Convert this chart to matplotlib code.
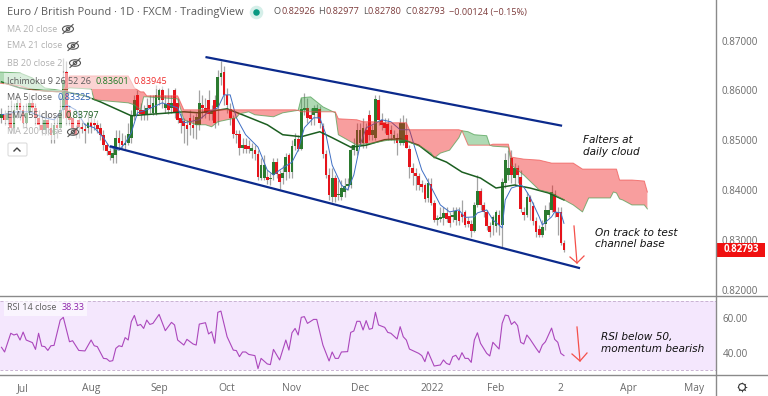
import matplotlib
matplotlib.use("Agg")
import matplotlib.pyplot as plt
from matplotlib.patches import Circle, Ellipse, FancyBboxPatch, Rectangle

plt.rcParams["font.family"] = ["Open Sans", "DejaVu Sans"]

# daily candles
opens = [.8545,.8552,.8540,.8555,.8525,.8560,.8575,.8560,.8535,.8555,.8575,.8565,.8545,.8530,.8520,.8540,.8525,.8510,.8530,.8525,
         .8560,.8636,.8561,.8545,.8525,.8541,.8526,.8522,.8525,.8537,.8535,.8530,.8525,.8510,.8490,.8478,.8465,.8470,.8505,.8498,
         .8490,.8495,.8505,.8550,.8590,.8560,.8560,.8550,.8570,.8555,.8555,.8580,.8600,.8565,.8575,.8565,.8600,.8575,.8545,.8538,
         .8530,.8545,.8530,.8530,.8530,.8570,.8565,.8580,.8553,.8580,.8567,.8627,.8636,.8590,.8562,.8545,.8513,.8512,.8485,.8490,
         .8488,.8478,.8480,.8473,.8425,.8425,.8427,.8422,.8430,.8457,.8432,.8425,.8437,.8470,.8437,.8488,.8503,.8483,.8560,.8565,
         .8550,.8550,.8555,.8563,.8528,.8473,.8430,.8386,.8425,.8390,.8385,.8395,.8408,.8410,.8480,.8478,.8495,.8495,.8520,.8550,
         .8510,.8505,.8580,.8540,.8535,.8533,.8520,.8505,.8505,.8495,.8495,.8510,.8482,.8445,.8435,.8428,.8412,.8410,.8384,.8412,
         .8374,.8340,.8342,.8344,.8354,.8348,.8345,.8340,.8358,.8352,.8355,.8338,.8332,.8318,.8370,.8397,.8370,.8355,.8327,.8330,
         .8328,.8350,.8330,.8415,.8430,.8465,.8425,.8445,.8426,.8356,.8350,.8385,.8368,.8338,.8322,.8310,.8332,.8350,.8360,.8392,
         .8355,.8356,.8294]
closes = [.8552,.8540,.8555,.8525,.8560,.8575,.8560,.8535,.8555,.8575,.8565,.8545,.8530,.8520,.8540,.8525,.8510,.8530,.8525,.8560,
          .8620,.8545,.8541,.8525,.8510,.8526,.8522,.8518,.8537,.8527,.8530,.8522,.8510,.8490,.8478,.8470,.8475,.8505,.8495,.8490,
          .8495,.8512,.8550,.8580,.8560,.8553,.8550,.8565,.8565,.8575,.8590,.8600,.8580,.8572,.8560,.8575,.8555,.8541,.8535,.8528,
          .8522,.8530,.8525,.8547,.8575,.8565,.8555,.8553,.8558,.8535,.8627,.8635,.8591,.8570,.8545,.8513,.8510,.8485,.8490,.8483,
          .8482,.8485,.8473,.8426,.8450,.8450,.8420,.8425,.8457,.8432,.8417,.8435,.8467,.8437,.8488,.8503,.8483,.8563,.8565,.8545,
          .8543,.8565,.8565,.8535,.8473,.8430,.8390,.8424,.8385,.8392,.8405,.8408,.8412,.8480,.8490,.8521,.8520,.8525,.8495,.8510,
          .8520,.8583,.8540,.8530,.8525,.8510,.8512,.8510,.8495,.8535,.8535,.8485,.8447,.8435,.8428,.8410,.8407,.8382,.8415,.8374,
          .8340,.8343,.8345,.8354,.8342,.8333,.8350,.8358,.8338,.8345,.8330,.8331,.8318,.8370,.8397,.8370,.8355,.8327,.8315,.8345,
          .8355,.8330,.8417,.8460,.8445,.8430,.8445,.8430,.8362,.8350,.8386,.8375,.8338,.8316,.8310,.8325,.8360,.8360,.8396,.8355,
          .8345,.8294,.8279]
highs = [.8565,.8560,.8570,.8580,.8575,.8590,.8585,.8570,.8575,.8595,.8590,.8575,.8560,.8550,.8560,.8550,.8535,.8550,.8550,.8590,
         .8665,.8660,.8570,.8555,.8530,.8560,.8540,.8535,.8555,.8550,.8545,.8540,.8535,.8520,.8495,.8485,.8485,.8520,.8520,.8515,
         .8510,.8535,.8560,.8590,.8600,.8575,.8570,.8585,.8590,.8590,.8610,.8605,.8608,.8590,.8605,.8590,.8605,.8585,.8555,.8545,
         .8540,.8560,.8550,.8555,.8600,.8590,.8585,.8600,.8570,.8590,.8640,.8660,.8650,.8605,.8575,.8550,.8520,.8520,.8505,.8505,
         .8500,.8495,.8490,.8480,.8465,.8470,.8440,.8435,.8465,.8465,.8440,.8450,.8475,.8475,.8500,.8515,.8510,.8585,.8595,.8585,
         .8565,.8570,.8572,.8568,.8535,.8480,.8445,.8445,.8430,.8420,.8420,.8425,.8425,.8490,.8505,.8535,.8535,.8545,.8535,.8560,
         .8530,.8590,.8590,.8555,.8545,.8545,.8530,.8520,.8515,.8545,.8550,.8545,.8490,.8455,.8445,.8435,.8420,.8415,.8425,.8425,
         .8380,.8350,.8365,.8365,.8365,.8355,.8365,.8365,.8365,.8380,.8360,.8345,.8340,.8375,.8430,.8405,.8375,.8360,.8335,.8350,
         .8360,.8360,.8425,.8475,.8480,.8480,.8455,.8450,.8440,.8365,.8395,.8390,.8375,.8345,.8330,.8340,.8370,.8375,.8410,.8400,
         .8365,.8365,.8300]
lows = [.8535,.8530,.8530,.8515,.8515,.8545,.8540,.8525,.8525,.8550,.8550,.8530,.8520,.8510,.8510,.8510,.8495,.8495,.8505,.8520,
        .8545,.8530,.8530,.8510,.8505,.8505,.8515,.8495,.8515,.8515,.8520,.8515,.8500,.8480,.8470,.8460,.8455,.8455,.8480,.8482,
        .8480,.8490,.8495,.8540,.8550,.8540,.8540,.8540,.8555,.8550,.8550,.8570,.8565,.8555,.8552,.8555,.8545,.8535,.8515,.8495,
        .8490,.8510,.8505,.8503,.8520,.8545,.8545,.8540,.8540,.8525,.8530,.8610,.8570,.8555,.8530,.8505,.8495,.8470,.8475,.8475,
        .8475,.8465,.8460,.8420,.8420,.8420,.8412,.8410,.8420,.8425,.8403,.8412,.8420,.8425,.8425,.8480,.8478,.8480,.8550,.8535,
        .8530,.8530,.8545,.8525,.8465,.8425,.8380,.8375,.8375,.8380,.8380,.8385,.8400,.8405,.8470,.8470,.8490,.8485,.8485,.8500,
        .8500,.8500,.8530,.8520,.8515,.8500,.8500,.8495,.8470,.8490,.8490,.8485,.8425,.8410,.8400,.8400,.8395,.8375,.8375,.8370,
        .8335,.8330,.8335,.8330,.8335,.8325,.8335,.8330,.8330,.8335,.8325,.8325,.8305,.8315,.8365,.8360,.8345,.8320,.8305,.8310,
        .8315,.8310,.8286,.8405,.8420,.8415,.8410,.8415,.8355,.8340,.8345,.8340,.8330,.8305,.8305,.8305,.8320,.8345,.8355,.8345,
        .8310,.8290,.8275]

# moving averages, read at the turning points
ma5_x = [0,5,9,14,17,21,24,27,30,33,35,38,40,42,44,47,52,57,59,64,67,70,72,74,76,79,83,86,88,90,94,96,98,101,103,105,107,110,112,114,116,118,120,123,126,129,132,134,136,139,142,145,148,150,153,154,157,159,162,163,165,168,169,171,174,175,178,179,181,182]
ma5_y = [.8551,.8557,.8557,.8545,.8541,.8571,.8561,.8531,.8525,.8505,.8486,.8480,.8494,.8515,.8555,.8561,.8575,.8565,.8535,.8541,.8557,.8565,.8591,.8591,.8545,.8511,.8486,.8440,.8430,.8440,.8456,.8480,.8525,.8545,.8545,.8511,.8450,.8410,.8400,.8430,.8490,.8525,.8531,.8541,.8537,.8521,.8521,.8480,.8440,.8406,.8370,.8356,.8360,.8345,.8346,.8354,.8360,.8340,.8324,.8380,.8404,.8410,.8406,.8386,.8346,.8330,.8346,.8356,.8354,.8333]
ema55_x = [0,6,14,21,27,32,42,46,59,64,73,78,86,91,97,103,107,113,118,124,129,135,140,144,149,155,160,166,171,177,182]
ema55_y = [.8617,.8605,.8599,.8597,.8589,.8577,.8549,.8551,.8557,.8555,.8563,.8551,.8531,.8511,.8507,.8517,.8505,.8486,.8490,.8501,.8503,.8490,.8466,.8456,.8436,.8424,.8404,.8410,.8404,.8394,.8380]

# ichimoku cloud
cloud_x = [-1,6,10,14,18,20,22,29,30,41,43,45,46,47,57,59,63,66,68,70,73,76,77,80,82,88,91,95,96,97,100,102,104,108,109,115,117,120,125,131,132,136,139,140,142,145,148,149,151,153,157,158,159,164,165,169,174,178,185,188,190,197,198,199,200,201,204,208,209]
span_a = [.8637,.8635,.8625,.8605,.8601,.8599,.8605,.8603,.8581,.8575,.8571,.8561,.8587,.8587,.8583,.8541,.8531,.8531,.8527,.8537,.8541,.8545,.8553,.8557,.8551,.8547,.8555,.8559,.8560,.8585,.8587,.8577,.8567,.8555,.8511,.8490,.8492,.8494,.8500,.8500,.8496,.8486,.8474,.8464,.8474,.8480,.8505,.8519,.8517,.8511,.8509,.8490,.8488,.8486,.8450,.8430,.8400,.8394,.8370,.8356,.8384,.8384,.8396,.8394,.8382,.8380,.8370,.8370,.8362]
span_b = [.8615,.8609,.8601,.8599,.8597,.8599,.8629,.8629,.8629,.8629,.8605,.8597,.8597,.8589,.8589,.8561,.8561,.8561,.8561,.8561,.8561,.8561,.8561,.8561,.8561,.8561,.8561,.8561,.8560,.8557,.8557,.8557,.8557,.8557,.8543,.8541,.8537,.8537,.8535,.8535,.8521,.8521,.8521,.8521,.8521,.8521,.8521,.8519,.8490,.8490,.8490,.8490,.8492,.8492,.8466,.8462,.8460,.8454,.8454,.8442,.8442,.8442,.8442,.8442,.8420,.8420,.8420,.8418,.8396]

# channel lines
upper_x = [66, 181.4]
upper_y = [.8667, .8529]
lower_x = [35.1, 187.2]
lower_y = [.8488, .8243]

rsi_x = [0,1,3,4,5,6,7,8,10,11,12,13,14,15,16,17,19,20,22,23,25,27,29,30,31,33,34,35,36,37,38,39,40,41,42,43,44,45,46,47,48,49,51,53,55,56,57,59,60,62,63,64,66,67,68,69,70,71,73,75,76,77,78,79,80,82,83,84,86,87,88,90,92,93,94,95,96,97,98,99,101,102,104,106,107,108,109,110,112,113,114,115,116,117,118,119,120,121,122,124,125,126,128,129,130,131,132,135,136,137,138,140,142,143,144,145,146,147,148,149,150,151,152,153,154,155,157,158,159,161,162,163,164,165,166,167,168,169,170,171,173,174,175,176,178,179,180,181,182]
rsi_y = [43.1,40.4,51.2,50.2,50.8,47.3,51.9,47.3,45.8,41.9,51.2,43.8,43.5,41.3,44.0,44.2,58.8,60.4,46.3,46.9,41.3,41.0,47.3,44.0,43.5,36.7,36.5,35.0,35.4,42.5,44.0,43.5,48.7,47.3,57.9,61.5,55.6,56.3,54.0,58.8,56.3,56.9,62.1,52.7,57.5,56.0,47.3,44.4,47.7,45.0,44.4,56.5,57.3,50.8,52.1,45.4,63.3,64.0,49.2,41.5,41.2,37.7,40.4,40.4,39.0,38.3,30.8,36.7,33.5,33.1,41.9,35.8,47.3,41.5,51.5,54.0,50.2,60.4,60.8,56.9,59.2,59.2,44.4,35.2,40.4,36.7,36.7,40.4,40.6,51.7,52.5,58.1,58.1,53.1,58.5,53.5,54.0,63.3,56.0,54.6,51.7,51.2,47.9,55.0,49.2,47.3,42.1,39.6,38.3,34.8,40.6,32.3,32.9,35.8,33.8,33.1,37.7,38.5,35.8,40.0,36.7,36.7,34.4,47.3,51.5,45.4,39.6,38.1,46.0,42.1,56.9,61.7,61.3,56.3,57.9,55.6,46.0,45.0,50.2,47.9,42.5,40.0,44.4,46.3,54.2,47.7,46.0,39.6,38.3]

month_pos = [7, 29, 51, 73, 94, 116, 139.5, 160, 181, 203, 224]
month_labels = ["Jul", "Aug", "Sep", "Oct", "Nov", "Dec", "2022", "Feb", "2", "Apr", "May"]
price_ticks = [.82, .83, .84, .85, .86, .87]
rsi_ticks = [40, 60]

W, H = 768, 396
fig = plt.figure(figsize=(7.68, 3.96), dpi=100, facecolor="white")
ax = fig.add_axes([0, (H - 296) / H, 716 / W, 296 / H])
ax2 = fig.add_axes([0, (H - 375) / H, 716 / W, 79 / H])

UP = "#2b7a2f"
DOWN = "#e5131b"
TXT = "#6a6a6a"

# candles
bars = list(range(len(closes)))
cols = [UP if c >= o else DOWN for o, c in zip(opens, closes)]
ax.vlines(bars, lows, highs, color="#a3a3a3", lw=0.9, zorder=2)
ax.bar(bars, [abs(c - o) for o, c in zip(opens, closes)], bottom=[min(o, c) for o, c in zip(opens, closes)],
       width=0.88, color=cols, zorder=3)

ax.plot(ema55_x, ema55_y, color="#1b5e20", lw=1.1, zorder=4)
ax.plot(ma5_x, ma5_y, color="#3f6fc4", lw=0.7, zorder=4)

# cloud sits on top of the candles, see-through
a_up = [a >= b for a, b in zip(span_a, span_b)]
b_up = [a <= b for a, b in zip(span_a, span_b)]
ax.fill_between(cloud_x, span_a, span_b, where=a_up, color="#2e9e3a", alpha=0.38, lw=0, interpolate=True, zorder=5)
ax.fill_between(cloud_x, span_a, span_b, where=b_up, color="#f01818", alpha=0.42, lw=0, interpolate=True, zorder=5)
ax.plot(cloud_x, span_a, color="#4b9e50", lw=0.7, alpha=0.7, zorder=5)
ax.plot(cloud_x, span_b, color="#ef5350", lw=0.7, alpha=0.7, zorder=5)

ax.plot(upper_x, upper_y, color="#0b2a8c", lw=1.6, zorder=6, solid_capstyle="butt")
ax.plot(lower_x, lower_y, color="#0b2a8c", lw=1.6, zorder=6, solid_capstyle="butt")

ax.set_xlim(-0.485, 231.2)
ax.set_ylim(.84 - 106 / 4980, .84 + 190 / 4980)
ax.yaxis.tick_right()
ax.set_yticks(price_ticks)
ax.set_yticklabels(["%.5f" % p for p in price_ticks])
ax.set_xticks([])
ax.tick_params(axis="y", length=0, pad=4, labelsize=7.1, labelcolor=TXT)
for s in ax.spines.values():
    s.set_visible(False)

# RSI pane
ax2.axhspan(30, 70, color="#f4e7fd", lw=0, zorder=1)
ax2.axhline(70, color="#c9b3d2", lw=0.7, ls=(0, (3, 2)), zorder=2)
ax2.axhline(30, color="#c9b3d2", lw=0.7, ls=(0, (3, 2)), zorder=2)
ax2.plot(rsi_x, rsi_y, color="#ab47bc", lw=0.8, zorder=3)
ax2.set_xlim(-0.485, 231.2)
ax2.set_ylim(30 - 5 / 1.7325, 70 + 4.7 / 1.7325)
ax2.yaxis.tick_right()
ax2.set_yticks(rsi_ticks)
ax2.set_yticklabels(["%.2f" % r for r in rsi_ticks])
ax2.set_xticks(month_pos)
ax2.set_xticklabels(month_labels)
ax2.tick_params(axis="y", length=0, pad=5, labelsize=7.1, labelcolor=TXT)
ax2.tick_params(axis="x", length=0, pad=6, labelsize=7.4, labelcolor=TXT)
for s in ax2.spines.values():
    s.set_visible(False)

# overlay in pixel coordinates for the TradingView furniture
ov = fig.add_axes([0, 0, 1, 1], facecolor="none", zorder=10)
ov.set_xlim(0, W)
ov.set_ylim(H, 0)
ov.axis("off")

ov.plot([716, 716], [0, H], color="#8a8a8a", lw=1)
ov.plot([0, W], [296, 296], color="#8a8a8a", lw=1)
ov.plot([0, W], [375, 375], color="#8a8a8a", lw=1)

ov.text(7, 12, "Euro / British Pound · 1D · FXCM · TradingView", fontsize=7.9, color="#5a5a5a", va="center")
ov.scatter([256], [12], s=95, color="#d5efe9", lw=0)
ov.scatter([256], [12], s=22, color="#089981", lw=0)
ohlc = [(274, "O", "#555555"), (281, "0.82926", "#7d3c3c"), (318, "H", "#555555"), (325, "0.82977", "#7d3c3c"),
        (363, "L", "#555555"), (368, "0.82780", "#7d3c3c"), (405, "C", "#555555"), (411, "0.82793", "#7d3c3c"),
        (449, "−0.00124 (−0.15%)", "#7d3c3c")]
for x, s, c in ohlc:
    ov.text(x, 12, s, fontsize=6.6, color=c, va="center")

HID = "#b0b0b0"
VIS = "#5c5c5c"

# legend rows: pale strip first, then the text and icons on top
def row(y, x1, parts):
    ov.add_patch(Rectangle((4, y - 8), x1 - 4, 16, fc="white", alpha=0.55, lw=0))
    for px, s, c in parts:
        ov.text(px, y, s, fontsize=6.5, color=c, va="center")

def eye(x, y):
    ov.add_patch(Ellipse((x, y), 11, 6.5, fill=False, ec="#555555", lw=0.8))
    ov.add_patch(Ellipse((x, y), 3.4, 3.4, fill=False, ec="#555555", lw=0.8))
    ov.plot([x - 5, x + 5], [y + 4.5, y - 4.5], color="#555555", lw=0.8)

row(29, 76, [(7, "MA 20 close", HID)])
eye(68, 29)
row(46, 81, [(7, "EMA 21 close", HID)])
eye(73, 46)
row(63, 83, [(7, "BB 20 close 2", HID)])
eye(75, 63)
row(81, 167, [(7, "Ichimoku 9 26 52 26", VIS), (96, "0.83601", "#1b7a22"), (133, "0.83945", "#ef2b2b")])
row(98, 92, [(7, "MA 5 close", VIS), (57, "0.83325", "#2a5db0")])
row(115, 101, [(7, "EMA 55 close", VIS), (66, "0.83797", "#1b5e20")])
row(132, 81, [(7, "MA 200 close", HID)])
eye(73, 132)
ov.add_patch(FancyBboxPatch((8, 143), 19, 13, boxstyle="round,pad=0,rounding_size=1.5", fc="white", ec="#dcdcdc", lw=0.8))
ov.plot([14, 17, 20], [151, 148, 151], color="#444444", lw=1)

ov.add_patch(Rectangle((4, 300), 83, 16, fc="white", alpha=0.6, lw=0))
ov.text(7, 308, "RSI 14 close", fontsize=6.5, color=VIS, va="center")
ov.text(62, 308, "38.33", fontsize=6.5, color="#8e24aa", va="center")

# callouts
note = dict(fontsize=7.6, color="#111111", style="italic", va="center", family=["DejaVu Sans"], linespacing=1.15)
ov.text(583, 146, "Falters at\ndaily cloud", **note)
ov.text(595, 238.5, "On track to test\nchannel base", **note)
ov.text(601, 343, "RSI below 50,\nmomentum bearish", **note)

for x0, y0, x1, y1, bx0, by0, bx1, by1 in [(574, 226, 577, 263, 570, 257, 584, 256), (577, 327, 580, 361, 572, 354, 587, 353)]:
    ov.plot([x0, x1], [y0, y1], color="#f4504a", lw=0.9)
    ov.plot([bx0, x1, bx1], [by0, y1, by1], color="#f4504a", lw=0.9)

# last price tag
ov.add_patch(Rectangle((717, 243), 48, 14, fc="#f01010", lw=0))
ov.text(741, 250, "0.82793", fontsize=6.9, color="white", weight="bold", ha="center", va="center")

# gear
ov.scatter([742], [387], s=60, marker=(8, 1, 0), color="#333333", lw=0)
ov.add_patch(Circle((742, 387), 3.4, fc="white", ec="#333333", lw=0.8))

fig.savefig("out.png", dpi=100)
